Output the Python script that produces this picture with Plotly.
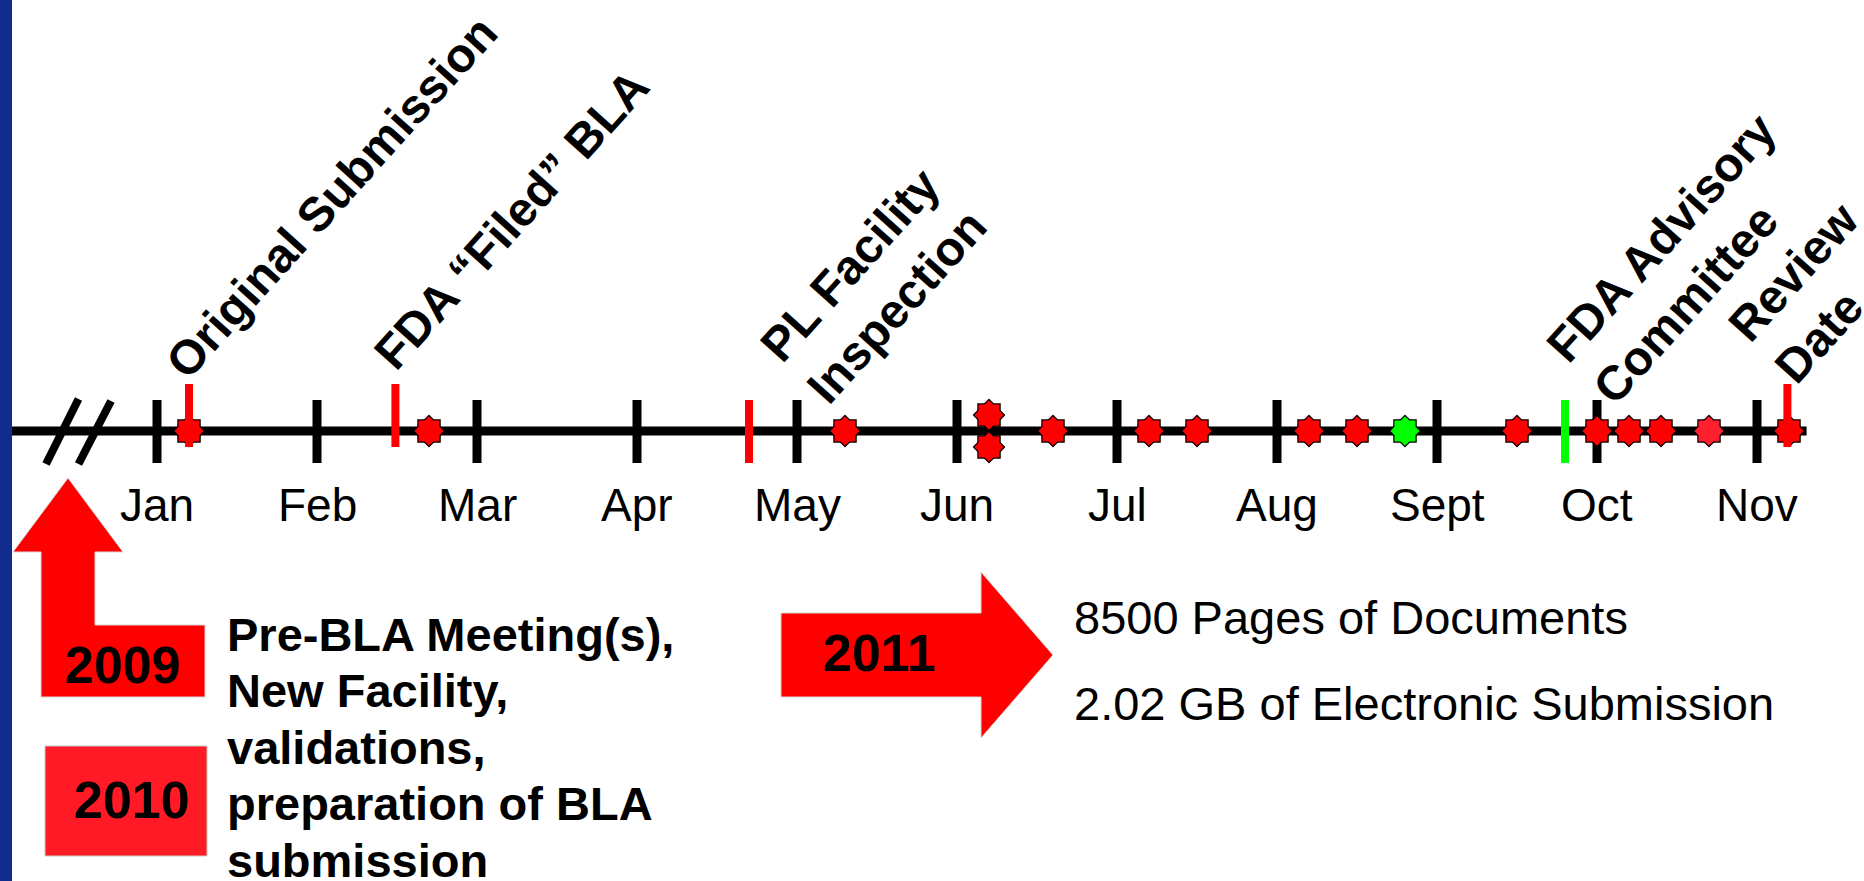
import plotly.graph_objects as go

# ---------------- data ----------------
months = ["Jan", "Feb", "Mar", "Apr", "May", "Jun", "Jul", "Aug", "Sept", "Oct", "Nov"]
month_pos = [0, 1, 2, 3, 4, 5, 6, 7, 8, 9, 10]          # Jan = 0 (month units)

# review events (stars) - position in months, stacking level, colour
star_x     = [0.2, 1.7, 4.3, 5.2, 5.2, 5.6, 6.2, 6.5, 7.2, 7.5, 7.8, 8.5, 9.0, 9.2, 9.4, 9.7, 10.2]
star_level = [0,   0,   0,   1,  -1,   0,   0,   0,   0,   0,   0,   0,   0,   0,   0,   0,   0]
star_color = ["#FF0000"] * 10 + ["#00FF00"] + ["#FF0000"] * 4 + ["#FF1F2E", "#FF0000"]

# milestones (vertical bars + rotated labels)
milestone_x     = [0.2, 1.49, 3.7, 8.8, 10.19]
milestone_label = ["Original Submission", "FDA \u201cFiled\u201d BLA", "PL Facility<br>Inspection",
                   "FDA Advisory<br>Committee", "Review<br>Date"]
milestone_color = ["#FF0000", "#FF0000", "#FF0000", "#00FF00", "#FF0000"]

years = ["2009", "2010", "2011"]
prep_lines = ["Pre-BLA Meeting(s),", "New Facility,", "validations,", "preparation of BLA", "submission"]
stats_lines = ["8500 Pages of Documents", "2.02 GB of Electronic Submission"]

# ---------------- styling / layout constants ----------------
W, H = 1864, 881
PX_PER_MONTH = 160.0
JAN_PX = 157.0
AXIS_PX = 431.0
FONT = "Arial, 'Liberation Sans', sans-serif"

x_lo = -JAN_PX / PX_PER_MONTH
x_hi = x_lo + W / PX_PER_MONTH
y_lo, y_hi = AXIS_PX - H, AXIS_PX

raised = {"Original Submission": True, "FDA \u201cFiled\u201d BLA": True, "PL Facility<br>Inspection": False,
          "FDA Advisory<br>Committee": False, "Review<br>Date": True}
label_shift = {"Original Submission": (142, 234), "FDA \u201cFiled\u201d BLA": (116, 212),
               "PL Facility<br>Inspection": (124, 146), "FDA Advisory<br>Committee": (119, 173),
               "Review<br>Date": (29, 139)}


def P(x, y):
    return x / W, 1 - y / H


def path(points):
    s = ""
    for i, (x, y) in enumerate(points):
        px_, py_ = P(x, y)
        s += ("M" if i == 0 else "L") + f"{px_:.5f},{py_:.5f} "
    return s + "Z"


fig = go.Figure()

# timeline
fig.add_trace(go.Scatter(x=[x_lo + 12 / PX_PER_MONTH, 10.31], y=[0, 0], mode="lines",
                         line=dict(color="black", width=9), hoverinfo="skip", showlegend=False))

# month ticks
tx, ty = [], []
for m in month_pos:
    tx += [m, m, None]
    ty += [31, -32, None]
fig.add_trace(go.Scatter(x=tx, y=ty, mode="lines", line=dict(color="black", width=9),
                         hoverinfo="skip", showlegend=False))

# stars (octagram = square + diamond)
sy = [lv * 16 for lv in star_level]
SQ, DI = 21, 22.5
for sym, size, lw in [("square", SQ, 2.5), ("diamond", DI, 2.5), ("square", SQ, 0), ("diamond", DI, 0)]:
    fig.add_trace(go.Scatter(x=star_x, y=sy, mode="markers",
                             marker=dict(symbol=sym, size=size, color=star_color,
                                         line=dict(color="black", width=lw)),
                             hoverinfo="skip", showlegend=False))

# milestone bars
for xm, lab, col in zip(milestone_x, milestone_label, milestone_color):
    top, bot = (47, -16) if raised[lab] else (31, -32)
    fig.add_trace(go.Scatter(x=[xm, xm], y=[top, bot], mode="lines",
                             line=dict(color=col, width=8), hoverinfo="skip", showlegend=False))

annotations = []
# milestone labels
for xm, lab in zip(milestone_x, milestone_label):
    dx, dy = label_shift[lab]
    annotations.append(dict(x=xm, y=0, xref="x", yref="y", text=lab, showarrow=False,
                            xshift=dx, yshift=dy, textangle=-48, align="left",
                            xanchor="center", yanchor="middle",
                            font=dict(family=FONT, size=48, color="black", weight=700)))
# month labels
for m, lab in zip(month_pos, months):
    annotations.append(dict(x=m, y=0, xref="x", yref="y", text=lab, showarrow=False,
                            yshift=-74, xanchor="center", yanchor="middle",
                            font=dict(family=FONT, size=46, color="black")))

# year labels
year_pos = {"2009": (123, 665), "2010": (132, 800), "2011": (879, 653)}
for yr in years:
    x, y = P(*year_pos[yr])
    annotations.append(dict(x=x, y=y, xref="paper", yref="paper", text=yr, showarrow=False,
                            xanchor="center", yanchor="middle",
                            font=dict(family=FONT, size=52, color="black", weight=700)))

for i, line in enumerate(prep_lines):
    x, y = P(225, 634 + i * 56.5)
    annotations.append(dict(x=x, y=y, xref="paper", yref="paper", text=line, showarrow=False,
                            xanchor="left", yanchor="middle",
                            font=dict(family=FONT, size=47, color="black", weight=700)))

for i, line in enumerate(stats_lines):
    x, y = P(1072, 617 + i * 86)
    annotations.append(dict(x=x, y=y, xref="paper", yref="paper", text=line, showarrow=False,
                            xanchor="left", yanchor="middle",
                            font=dict(family=FONT, size=47, color="black")))

shapes = []
# left blue band
shapes.append(dict(type="rect", xref="paper", yref="paper", x0=0, x1=12 / W, y0=0, y1=1,
                   fillcolor="#102C8C", line=dict(width=0), layer="below"))
# axis-break slashes
for (x0, y0, x1, y1) in [(46, 464, 78.5, 399), (78.5, 464, 111, 401)]:
    a0, b0 = P(x0, y0)
    a1, b1 = P(x1, y1)
    shapes.append(dict(type="line", xref="paper", yref="paper", x0=a0, y0=b0, x1=a1, y1=b1,
                       line=dict(color="black", width=8)))
# up arrow with 2009 box
shapes.append(dict(type="path", xref="paper", yref="paper",
                   path=path([(68, 478), (123, 552), (95, 552), (95, 625), (205, 625), (205, 697),
                              (41, 697), (41, 552), (13, 552)]),
                   fillcolor="#FF0000", line=dict(color="#D8D8D8", width=1), layer="below"))
# 2010 box
a0, b0 = P(45, 746)
a1, b1 = P(207, 856)
shapes.append(dict(type="rect", xref="paper", yref="paper", x0=a0, y0=b0, x1=a1, y1=b1,
                   fillcolor="#FF1A25", line=dict(color="#C8C8C8", width=1), layer="below"))
# right arrow 2011
shapes.append(dict(type="path", xref="paper", yref="paper",
                   path=path([(781, 613), (981, 613), (981, 572), (1053, 655), (981, 738),
                              (981, 697), (781, 697)]),
                   fillcolor="#FF0000", line=dict(color="#D8D8D8", width=1), layer="below"))

fig.update_layout(
    width=W, height=H, margin=dict(l=0, r=0, t=0, b=0),
    paper_bgcolor="white", plot_bgcolor="white",
    xaxis=dict(range=[x_lo, x_hi], visible=False, fixedrange=True),
    yaxis=dict(range=[y_lo, y_hi], visible=False, fixedrange=True),
    annotations=annotations, shapes=shapes, showlegend=False,
)

fig.write_html("out.html", config={"displayModeBar": False},
               post_script="document.body.style.margin='0px';document.body.style.overflow='hidden';")
